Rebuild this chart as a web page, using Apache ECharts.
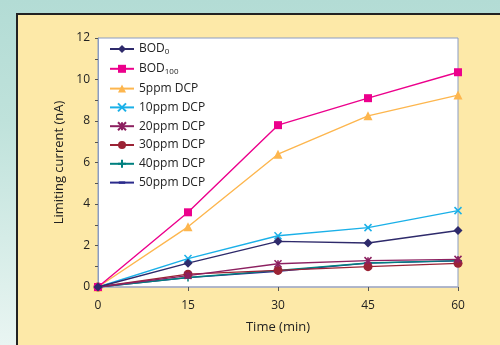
<!DOCTYPE html>
<html>
<head>
<meta charset="utf-8">
<script src="https://cdn.jsdelivr.net/npm/echarts@6/dist/echarts.min.js"></script>
<style>
    html, body { margin: 0; padding: 0; }
    #wrap {
        position: relative; width: 500px; height: 345px; overflow: hidden;
        background: linear-gradient(180deg, #b3dcd5 0%, #bfe2db 35%, #e9f5f2 100%);
    }
    #panel {
        position: absolute; left: 16px; top: 13px; right: 0; bottom: 0;
        background: #fde9a8; border-top: 2px solid #222; border-left: 2px solid #222;
    }
    #chart1 { position: absolute; left: 0; top: 0; width: 500px; height: 345px; }
</style>
</head>
<body>
<div id="wrap">
    <div id="panel"></div>
    <div id="chart1"></div>
</div>
<script>
const times = [0, 15, 30, 45, 60];
const bod0 = [0, 1.15, 2.2, 2.12, 2.72];
const bod100 = [0, 3.6, 7.8, 9.1, 10.35];
const dcp5 = [0, 2.9, 6.4, 8.25, 9.25];
const dcp10 = [0, 1.37, 2.47, 2.86, 3.68];
const dcp20 = [0, 0.55, 1.12, 1.27, 1.33];
const dcp30 = [0, 0.62, 0.8, 0.98, 1.14];
const dcp40 = [0, 0.46, 0.8, 1.16, 1.27];
const dcp50 = [0, 0.45, 0.76, 1.15, 1.26];

const seriesNames = ['BOD0', 'BOD100', '5ppm DCP', '10ppm DCP', '20ppm DCP', '30ppm DCP', '40ppm DCP', '50ppm DCP'];
const seriesValues = [bod0, bod100, dcp5, dcp10, dcp20, dcp30, dcp40, dcp50];
const colors = ['#2e2a6b', '#ec008c', '#fdb64e', '#1ab0e8', '#8c2060', '#9b2335', '#00807f', '#2b2b8c'];
// excel-like markers; the dash keeps a square box so the legend doesn't stretch it
const symbols = [
    'diamond', 'rect', 'triangle',
    'path://M0,0L10,10M10,0L0,10',
    'path://M0,0L10,10M10,0L0,10M5,0L5,10',
    'circle',
    'path://M5,0L5,10M0,5L10,5',
    'path://M0,0M10,10M1,3.5L9,3.5L9,6.5L1,6.5Z'
];
const sizes = [9, 8, 9, 7, 7, 9, 8, 8];

const chart = echarts.init(document.getElementById('chart1'));
const font = 'Open Sans';

const option = {
    animation: false,
    textStyle: { fontFamily: font },
    grid: {
        left: 98, right: 42, top: 38, bottom: 58,
        show: true, backgroundColor: '#fff', borderColor: '#8a9cc4', borderWidth: 1
    },
    legend: {
        orient: 'vertical',
        left: 104, top: 38,
        itemWidth: 24, itemHeight: 10, itemGap: 6.8,
        textStyle: {
            fontFamily: font, fontSize: 12, color: '#222',
            rich: { sub: { fontSize: 8, verticalAlign: 'bottom', padding: [6, 0, 0, 0], fontFamily: font, color: '#222' } }
        },
        formatter: function (name) {
            if (name === 'BOD0') return 'BOD{sub|0}';
            if (name === 'BOD100') return 'BOD{sub|100}';
            return name;
        },
        data: seriesNames
    },
    xAxis: {
        type: 'value', min: 0, max: 60, interval: 15,
        name: 'Time (min)', nameLocation: 'middle', nameGap: 34,
        nameTextStyle: { fontFamily: font, fontSize: 13, color: '#222' },
        axisLine: { lineStyle: { color: '#a9b0c8', width: 1.5 } },
        axisTick: { length: 4, lineStyle: { color: '#555' } },
        axisLabel: { fontFamily: font, fontSize: 12, color: '#222', margin: 13 },
        splitLine: { show: false }
    },
    yAxis: {
        type: 'value', min: 0, max: 12, interval: 2,
        name: 'Limiting current (nA)', nameLocation: 'middle', nameGap: 32,
        nameTextStyle: { fontFamily: font, fontSize: 13, color: '#222' },
        axisLine: { show: true, lineStyle: { color: '#8a9cc4' } },
        axisTick: { length: 3, lineStyle: { color: '#555' } },
        minorTick: { show: true, splitNumber: 2, length: 3, lineStyle: { color: '#555' } },
        axisLabel: { fontFamily: font, fontSize: 12, color: '#222', margin: 8 },
        splitLine: { show: false }
    },
    series: seriesNames.map((name, i) => ({
        name: name,
        type: 'line',
        data: times.map((t, j) => [t, seriesValues[i][j]]),
        symbol: symbols[i],
        symbolSize: sizes[i],
        showAllSymbol: true,
        lineStyle: { color: colors[i], width: 1.4 },
        itemStyle: { color: colors[i], borderColor: colors[i], borderWidth: i === 3 || i === 4 || i === 6 ? 1.5 : 0 },
        z: 10 - i
    }))
};

chart.setOption(option);
window.addEventListener('resize', function () { chart.resize(); });
</script>
</body>
</html>
